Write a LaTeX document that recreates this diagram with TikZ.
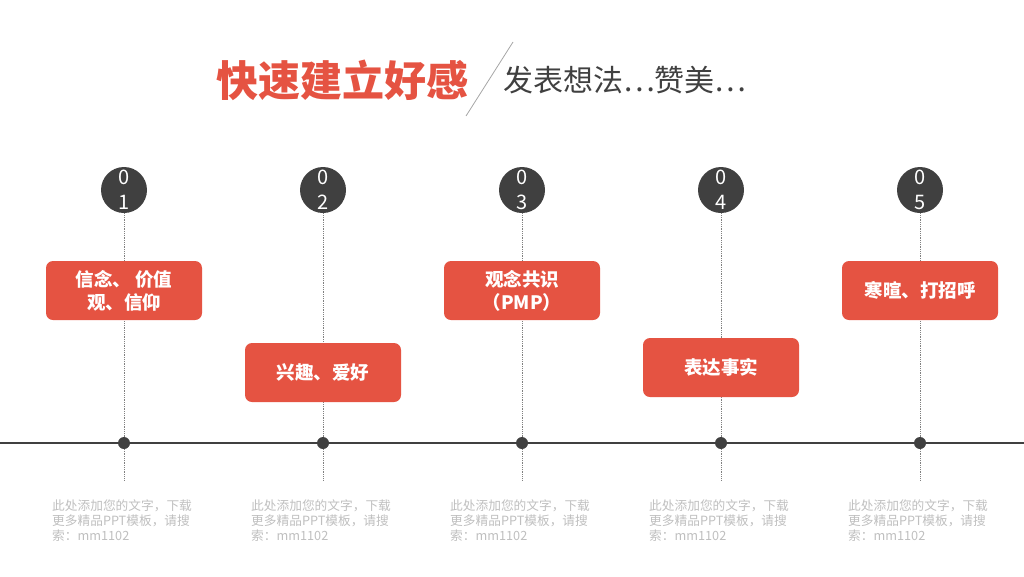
\documentclass[tikz,border=0pt]{standalone}
\usepackage{fontspec}
\setmainfont{Noto Sans CJK SC}
\usetikzlibrary{positioning,backgrounds}
\definecolor{tomato}{RGB}{229,83,66}
\definecolor{charcoal}{RGB}{64,64,64}
\definecolor{greytext}{RGB}{191,191,191}

\begin{document}
\begin{tikzpicture}
	[x=1pt,y=-1pt,
	num/.style={circle,fill=charcoal,minimum size=46pt,inner sep=0pt,text=white,align=center,font=\fontsize{20}{25}\selectfont},
	card/.style={rounded corners=7pt,fill=tomato,minimum width=156pt,minimum height=59pt,inner sep=0pt,text=white,align=center,font=\fontsize{18.5}{23}\selectfont\bfseries},
	dot/.style={circle,fill=charcoal,inner sep=0pt,minimum size=12pt},
	note/.style={text=greytext,anchor=north west,inner sep=0pt,align=left,font=\fontsize{12.7}{15}\selectfont},
	stem/.style={densely dotted,gray,line width=0.8pt}]
	\useasboundingbox (0,0) rectangle (1024,576);
	%%%%% TITLE
	\node[text=tomato,font=\fontsize{42}{42}\selectfont\bfseries] (title) at (342,80) {快速建立好感};
	\node[text=charcoal,anchor=west,inner sep=0pt,font=\fontsize{30}{30}\selectfont] (subtitle) at (503,80) {发表想法…赞美…};
	\coordinate (slashtop) at (513,42);
	\coordinate (slashbot) at (466,116);
	\draw[gray!70,line width=0.8pt] (slashtop) -- (slashbot);
	%%%%% AXIS
	\coordinate (axisl) at (0,443);
	\coordinate (axisr) at (1024,443);
	\draw[charcoal,line width=1.3pt] (axisl) -- (axisr);
	%%%%% STEPS
	\foreach \i/\x/\y/\txt in {1/124/290.5/{信念、 价值\\观、信仰},2/323/372.5/{兴趣、爱好},3/522/290.5/{观念共识\\（PMP）},4/721/367.5/{表达事实},5/920/290.5/寒暄、打招呼}
	{
	\node[num] (num\i) at (\x,190) {0\\\i};
	\node[card] (card\i) at (\x,\y) {\txt};
	\node[dot] (dot\i) at (\x,443) {};
	\coordinate (end\i) at (\x,480);
	\node[note] (note\i) at (\x-72,499.5) {此处添加您的文字，下载\\更多精品PPT模板，请搜\\索：mm1102};
	\begin{scope}[on background layer]
	\draw[stem] (num\i.south) -- (end\i);
	\end{scope}
	};
\end{tikzpicture}
\end{document}
